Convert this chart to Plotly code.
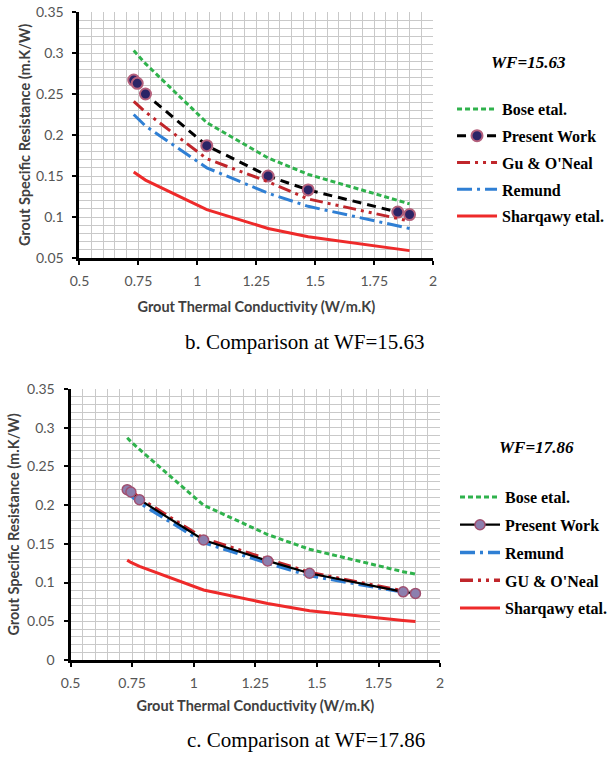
import plotly.graph_objects as go

# ---------------- data ----------------
k_grout = [0.73, 0.745, 0.78, 1.04, 1.3, 1.47, 1.85, 1.9]

# WF = 15.63
b_bose = [0.303, 0.298, 0.287, 0.215, 0.172, 0.152, 0.120, 0.116]
b_present = [0.267, 0.263, 0.250, 0.187, 0.150, 0.133, 0.106, 0.103]
b_gu = [0.241, 0.237, 0.228, 0.171, 0.143, 0.122, 0.098, 0.095]
b_remund = [0.225, 0.221, 0.211, 0.160, 0.129, 0.113, 0.089, 0.086]
b_sharqawy = [0.155, 0.152, 0.145, 0.109, 0.086, 0.076, 0.061, 0.059]

# WF = 17.86
c_bose = [0.287, 0.282, 0.272, 0.200, 0.162, 0.143, 0.114, 0.111]
c_present = [0.220, 0.217, 0.207, 0.155, 0.128, 0.112, 0.088, 0.086]
c_remund = [0.216, 0.212, 0.203, 0.152, 0.125, 0.109, 0.087, 0.085]
c_gu = [0.222, 0.219, 0.209, 0.157, 0.130, 0.113, 0.089, 0.087]
c_sharqawy = [0.129, 0.126, 0.121, 0.0905, 0.073, 0.0635, 0.051, 0.0496]

x_tickvals = [0.5, 0.75, 1, 1.25, 1.5, 1.75, 2]
x_ticktext = ["0.5", "0.75", "1", "1.25", "1.5", "1.75", "2"]
yb_tickvals = [0.05, 0.1, 0.15, 0.2, 0.25, 0.3, 0.35]
yb_ticktext = ["0.05", "0.1", "0.15", "0.2", "0.25", "0.3", "0.35"]
yc_tickvals = [0, 0.05, 0.1, 0.15, 0.2, 0.25, 0.3, 0.35]
yc_ticktext = ["0", "0.05", "0.1", "0.15", "0.2", "0.25", "0.3", "0.35"]

GREEN = "#2fb24c"
BLACK = "#000000"
DKRED = "#c0262b"
BLUE = "#2f7fd4"
RED = "#ee2a2a"

fig = go.Figure()

def add(x, y, name, color, dash, xa, ya, leg, width=3, marker=None):
    kw = dict(x=x, y=y, name=name, xaxis=xa, yaxis=ya, legend=leg,
              legendgroup=leg + name,
              line=dict(color=color, dash=dash, width=width))
    if marker:
        kw["mode"] = "lines+markers"
        kw["marker"] = marker
    else:
        kw["mode"] = "lines"
    fig.add_trace(go.Scatter(**kw))

# top chart
add(k_grout, b_bose, "Bose etal.", GREEN, "5px,3px", "x", "y", "legend")
add(k_grout, b_present, "Present Work", BLACK, "9px,6px", "x", "y", "legend",
    marker=dict(size=11, color="#2b2466", line=dict(color="#b4607c", width=2)))
add(k_grout, b_gu, "Gu & O'Neal", DKRED, "13px,5px,3px,5px,3px,5px", "x", "y", "legend")
add(k_grout, b_remund, "Remund", BLUE, "15px,5px,3px,5px", "x", "y", "legend")
add(k_grout, b_sharqawy, "Sharqawy etal.", RED, "solid", "x", "y", "legend")

# bottom chart
add(k_grout, c_bose, "Bose etal.", GREEN, "5px,3px", "x2", "y2", "legend2")
add(k_grout, c_remund, "Remund", BLUE, "15px,5px,3px,5px", "x2", "y2", "legend2", width=3.5)
add(k_grout, c_gu, "GU & O'Neal", DKRED, "13px,5px,3px,5px,3px,5px", "x2", "y2", "legend2", width=3.5)
add(k_grout, c_present, "Present Work", BLACK, "solid", "x2", "y2", "legend2", width=2.2,
    marker=dict(size=10, color="#8c7fae", line=dict(color="#a05070", width=1.5)))
add(k_grout, c_sharqawy, "Sharqawy etal.", RED, "solid", "x2", "y2", "legend2")

W, H = 612, 760

def px_x(a, b):
    return [a / W, b / W]

def px_y(top, bottom):
    return [1 - bottom / H, 1 - top / H]

tickfont = dict(family="Lato", size=14, color="#555555")
titlefont = dict(family="Lato", size=14.5, color="#404040", weight="bold")
GRID = "#c9c9c9"

def xaxis(domain, anchor, title_standoff):
    return dict(domain=domain, anchor=anchor, range=[0.5, 2], tickvals=x_tickvals, ticktext=x_ticktext,
                showgrid=True, gridcolor=GRID, gridwidth=1,
                minor=dict(dtick=0.05, showgrid=True, gridcolor=GRID, gridwidth=1),
                showline=True, linecolor="black", linewidth=3, ticks="outside", ticklen=4,
                tickwidth=2, tickcolor="black", tickfont=tickfont, zeroline=False,
                automargin=False, ticklabelstandoff=4,
                title=dict(text="Grout Thermal Conductivity (W/m.K)", font=titlefont,
                           standoff=title_standoff))

def yaxis(domain, anchor, rng, tv, tt, title_standoff):
    return dict(domain=domain, anchor=anchor, range=rng, tickvals=tv, ticktext=tt,
                showgrid=True, gridcolor=GRID, gridwidth=1,
                minor=dict(dtick=0.01, showgrid=True, gridcolor=GRID, gridwidth=1),
                showline=True, linecolor="black", linewidth=3, ticks="outside", ticklen=4,
                tickwidth=2, tickcolor="black", tickfont=tickfont, zeroline=False,
                automargin=False, ticklabelstandoff=6,
                title=dict(text="Grout Specific Resistance (m.K/W)", font=titlefont,
                           standoff=title_standoff))

legfont = dict(family="Liberation Serif", size=16, color="black", weight="bold")

def note(text, x, y, size):
    return dict(text=text, x=x / W, y=1 - y / H, xref="paper", yref="paper",
                xanchor="center", yanchor="middle", showarrow=False,
                font=dict(family="Liberation Serif", size=size, color="black"))

fig.update_layout(
    width=W, height=H, margin=dict(l=0, r=0, t=0, b=0),
    paper_bgcolor="white", plot_bgcolor="white",
    xaxis=xaxis(px_x(80, 436), "y", 15),
    yaxis=yaxis(px_y(12, 258), "x", [0.05, 0.35], yb_tickvals, yb_ticktext, 2),
    xaxis2=xaxis(px_x(71, 443), "y2", 12),
    yaxis2=yaxis(px_y(389, 660), "x2", [0, 0.35], yc_tickvals, yc_ticktext, 4),
    legend=dict(x=455 / W, y=1 - 92 / H, xanchor="left", yanchor="top", font=legfont,
                tracegroupgap=3, bgcolor="rgba(0,0,0,0)", itemwidth=40,
                traceorder="grouped"),
    legend2=dict(x=458 / W, y=1 - 480 / H, xanchor="left", yanchor="top", font=legfont,
                 tracegroupgap=4, bgcolor="rgba(0,0,0,0)", itemwidth=40,
                 traceorder="grouped"),
    annotations=[
        note("<b><i>WF=15.63</i></b>", 532, 63, 17),
        note("<b><i>WF=17.86</i></b>", 540, 448, 17),
        note("b. Comparison at WF=15.63", 307, 342, 21),
        note("c. Comparison at WF=17.86", 308, 740, 21),
    ],
)

order2 = {"Bose etal.": 0, "Present Work": 1, "Remund": 2, "GU & O'Neal": 3, "Sharqawy etal.": 4}
for tr in fig.data:
    if tr.legend == "legend2":
        tr.legendrank = order2[tr.name]

fig.write_html("out.html", config={"displayModeBar": False},
               post_script="document.body.style.margin='0';document.body.style.padding='0';")
